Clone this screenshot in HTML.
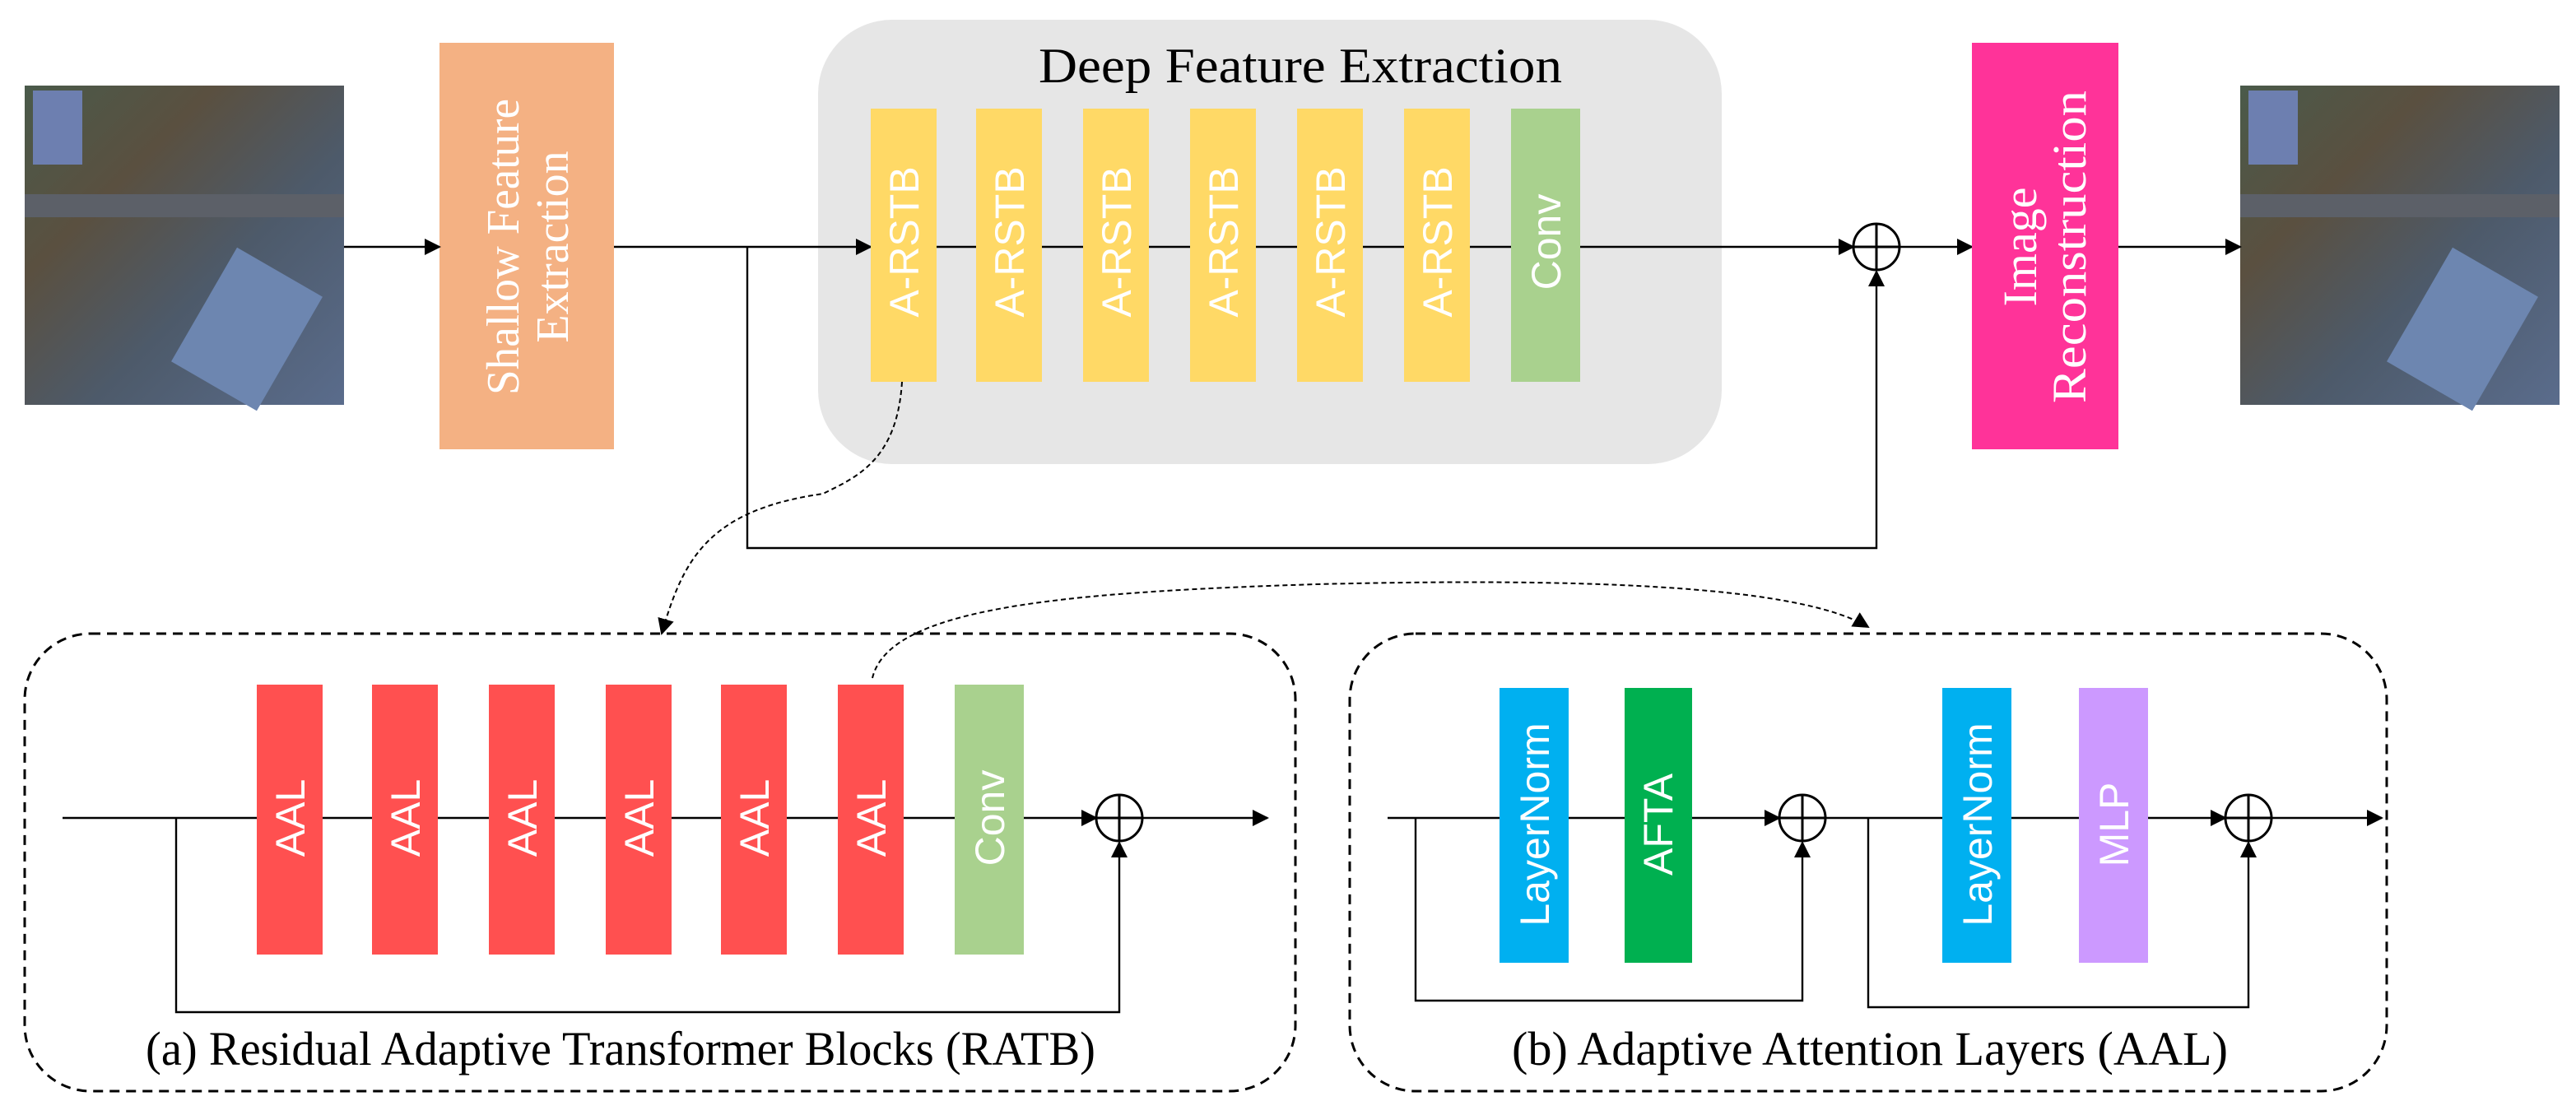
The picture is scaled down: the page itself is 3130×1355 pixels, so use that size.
<!DOCTYPE html>
<html><head><meta charset="utf-8"><style>
html,body{margin:0;padding:0;background:#fff;width:3130px;height:1355px;overflow:hidden}
svg{display:block}
.s{font-family:"Liberation Sans",sans-serif;fill:#fff;font-size:25px}
.r{font-family:"Liberation Serif",serif}
</style></head><body>
<svg width="3130" height="1355" viewBox="0 0 1565 677.5" xmlns="http://www.w3.org/2000/svg">
<defs>
<marker id="a" markerWidth="10" markerHeight="10" refX="9" refY="5" orient="auto" markerUnits="userSpaceOnUse"><path d="M0,0 L10,5 L0,10 z" fill="#000"/></marker>
<linearGradient id="img" x1="0" y1="0" x2="1" y2="1">
<stop offset="0" stop-color="#4a5a4a"/><stop offset="0.3" stop-color="#5a5040"/><stop offset="0.6" stop-color="#4d5a6a"/><stop offset="1" stop-color="#5a6c8c"/></linearGradient>
</defs>
<g>
<rect x="15" y="52" width="194" height="194" fill="url(#img)"/>
<rect x="15" y="118" width="194" height="14" fill="#5c6068"/>
<rect x="120" y="160" width="60" height="80" fill="#6d86b0" transform="rotate(30 150 200)"/>
<rect x="20" y="55" width="30" height="45" fill="#6d7fb0"/>
</g>
<g>
<rect x="1361" y="52" width="194" height="194" fill="url(#img)"/>
<rect x="1361" y="118" width="194" height="14" fill="#5c6068"/>
<rect x="1466" y="160" width="60" height="80" fill="#6d86b0" transform="rotate(30 1496 200)"/>
<rect x="1366" y="55" width="30" height="45" fill="#6d7fb0"/>
</g>
<rect x="267" y="26" width="106" height="247" fill="#F4B183"/>
<text class="r" fill="#fff" font-size="28" text-anchor="middle" transform="translate(320,150) rotate(-90)"><tspan x="0" y="-5" textLength="180" lengthAdjust="spacingAndGlyphs">Shallow Feature</tspan><tspan x="0" y="25">Extraction</tspan></text>
<rect x="497" y="12" width="549" height="270" rx="45" fill="#E6E6E6"/>
<text class="r" x="790" y="50" font-size="30" text-anchor="middle" fill="#000" textLength="318" lengthAdjust="spacingAndGlyphs">Deep Feature Extraction</text>
<line x1="209" y1="150" x2="267" y2="150" stroke="#000" stroke-width="1.2" marker-end="url(#a)"/>
<line x1="373" y1="150" x2="529" y2="150" stroke="#000" stroke-width="1.2" marker-end="url(#a)"/>
<line x1="569" y1="150" x2="1126" y2="150" stroke="#000" stroke-width="1.2" marker-end="url(#a)"/>
<g fill="#FFD966">
<rect x="529" y="66" width="40" height="166"/><rect x="593" y="66" width="40" height="166"/><rect x="658" y="66" width="40" height="166"/><rect x="723" y="66" width="40" height="166"/><rect x="788" y="66" width="40" height="166"/><rect x="853" y="66" width="40" height="166"/>
</g>
<rect x="918" y="66" width="42" height="166" fill="#A9D18E"/>
<g class="s" text-anchor="middle">
<text transform="translate(558,147) rotate(-90)">A-RSTB</text>
<text transform="translate(622,147) rotate(-90)">A-RSTB</text>
<text transform="translate(687,147) rotate(-90)">A-RSTB</text>
<text transform="translate(752,147) rotate(-90)">A-RSTB</text>
<text transform="translate(817,147) rotate(-90)">A-RSTB</text>
<text transform="translate(882,147) rotate(-90)">A-RSTB</text>
<text transform="translate(948,147) rotate(-90)">Conv</text>
</g>
<g stroke="#000" stroke-width="1.5" fill="none">
<circle cx="1140" cy="150" r="14"/><line x1="1126" y1="150" x2="1154" y2="150"/><line x1="1140" y1="136" x2="1140" y2="164"/>
</g>
<polyline points="454,150 454,333 1140,333 1140,165" fill="none" stroke="#000" stroke-width="1.2" marker-end="url(#a)"/>
<line x1="1154" y1="150" x2="1198" y2="150" stroke="#000" stroke-width="1.2" marker-end="url(#a)"/>
<rect x="1198" y="26" width="89" height="247" fill="#FF3399"/>
<text class="r" fill="#fff" font-size="29" text-anchor="middle" transform="translate(1242,150) rotate(-90)"><tspan x="0" y="-5">Image</tspan><tspan x="0" y="25" textLength="190" lengthAdjust="spacingAndGlyphs">Reconstruction</tspan></text>
<line x1="1287" y1="150" x2="1361" y2="150" stroke="#000" stroke-width="1.2" marker-end="url(#a)"/>
<path d="M548,232 C545,280 520,290 500,300 C430,310 415,340 402,385" fill="none" stroke="#000" stroke-width="1" stroke-dasharray="3,2" marker-end="url(#a)"/>
<path d="M530,412 C540,370 640,360 800,355 C1000,350 1100,360 1135,381" fill="none" stroke="#000" stroke-width="1" stroke-dasharray="3,2" marker-end="url(#a)"/>
<rect x="15" y="385" width="772" height="278" rx="40" fill="none" stroke="#000" stroke-width="1.5" stroke-dasharray="6,4"/>
<line x1="38" y1="497" x2="666" y2="497" stroke="#000" stroke-width="1.2" marker-end="url(#a)"/>
<line x1="694" y1="497" x2="770" y2="497" stroke="#000" stroke-width="1.2" marker-end="url(#a)"/>
<g fill="#FF5050">
<rect x="156" y="416" width="40" height="164"/><rect x="226" y="416" width="40" height="164"/><rect x="297" y="416" width="40" height="164"/><rect x="368" y="416" width="40" height="164"/><rect x="438" y="416" width="40" height="164"/><rect x="509" y="416" width="40" height="164"/>
</g>
<rect x="580" y="416" width="42" height="164" fill="#A9D18E"/>
<g class="s" text-anchor="middle">
<text transform="translate(185,497) rotate(-90)">AAL</text>
<text transform="translate(255,497) rotate(-90)">AAL</text>
<text transform="translate(326,497) rotate(-90)">AAL</text>
<text transform="translate(397,497) rotate(-90)">AAL</text>
<text transform="translate(467,497) rotate(-90)">AAL</text>
<text transform="translate(538,497) rotate(-90)">AAL</text>
<text transform="translate(610,497) rotate(-90)">Conv</text>
</g>
<g stroke="#000" stroke-width="1.5" fill="none">
<circle cx="680" cy="497" r="14"/><line x1="666" y1="497" x2="694" y2="497"/><line x1="680" y1="483" x2="680" y2="511"/>
</g>
<polyline points="107,497 107,615 680,615 680,512" fill="none" stroke="#000" stroke-width="1.2" marker-end="url(#a)"/>
<text class="r" x="377" y="647" font-size="29" text-anchor="middle" fill="#000" textLength="577" lengthAdjust="spacingAndGlyphs">(a) Residual Adaptive Transformer Blocks (RATB)</text>
<rect x="820" y="385" width="630" height="278" rx="40" fill="none" stroke="#000" stroke-width="1.5" stroke-dasharray="6,4"/>
<line x1="843" y1="497" x2="1081" y2="497" stroke="#000" stroke-width="1.2" marker-end="url(#a)"/>
<line x1="1109" y1="497" x2="1352" y2="497" stroke="#000" stroke-width="1.2" marker-end="url(#a)"/>
<line x1="1380" y1="497" x2="1447" y2="497" stroke="#000" stroke-width="1.2" marker-end="url(#a)"/>
<rect x="911" y="418" width="42" height="167" fill="#00B0F0"/>
<rect x="987" y="418" width="41" height="167" fill="#00B050"/>
<rect x="1180" y="418" width="42" height="167" fill="#00B0F0"/>
<rect x="1263" y="418" width="42" height="167" fill="#CC99FF"/>
<g class="s" text-anchor="middle">
<text transform="translate(941,501) rotate(-90)">LayerNorm</text>
<text transform="translate(1016,501) rotate(-90)">AFTA</text>
<text transform="translate(1210,501) rotate(-90)">LayerNorm</text>
<text transform="translate(1293,501) rotate(-90)">MLP</text>
</g>
<g stroke="#000" stroke-width="1.5" fill="none">
<circle cx="1095" cy="497" r="14"/><line x1="1081" y1="497" x2="1109" y2="497"/><line x1="1095" y1="483" x2="1095" y2="511"/>
<circle cx="1366" cy="497" r="14"/><line x1="1352" y1="497" x2="1380" y2="497"/><line x1="1366" y1="483" x2="1366" y2="511"/>
</g>
<polyline points="860,497 860,608 1095,608 1095,512" fill="none" stroke="#000" stroke-width="1.2" marker-end="url(#a)"/>
<polyline points="1135,497 1135,612 1366,612 1366,512" fill="none" stroke="#000" stroke-width="1.2" marker-end="url(#a)"/>
<text class="r" x="1136" y="647" font-size="29" text-anchor="middle" fill="#000" textLength="435" lengthAdjust="spacingAndGlyphs">(b) Adaptive Attention Layers (AAL)</text>
</svg>
</body></html>
